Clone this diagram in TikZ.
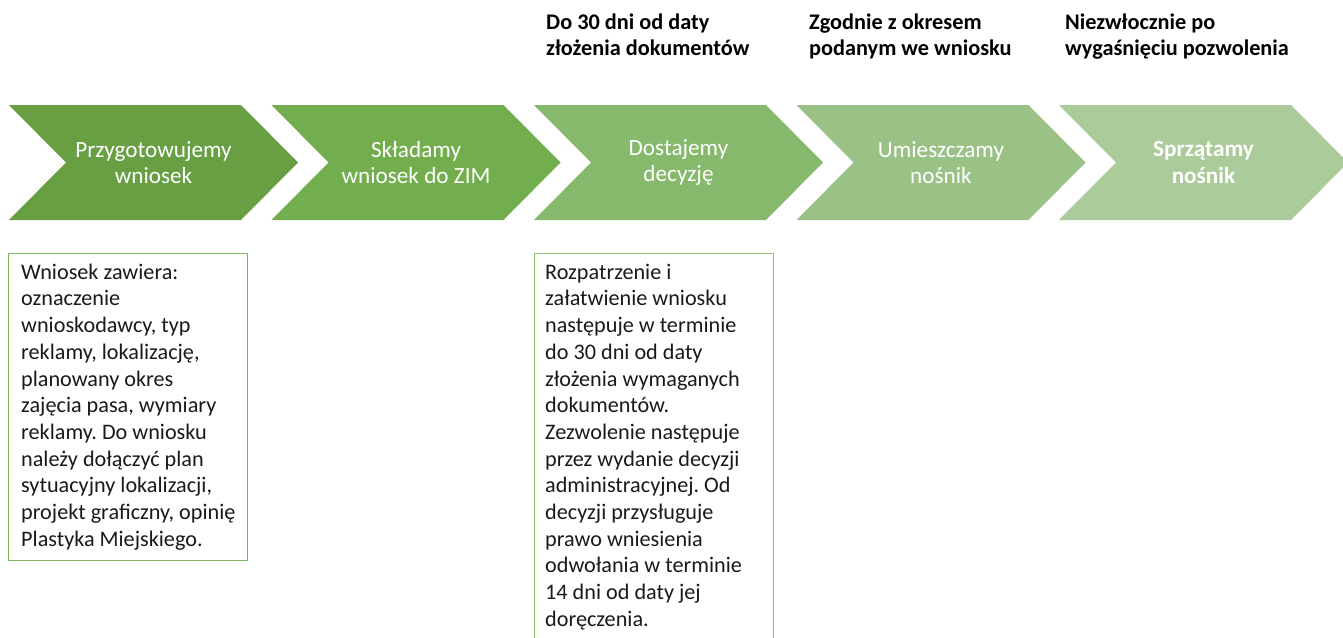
\documentclass[tikz,border=0pt]{standalone}
\usepackage{fontspec}
\setmainfont{Carlito}
\definecolor{cA}{HTML}{689F43}
\definecolor{cB}{HTML}{73AE4E}
\definecolor{cC}{HTML}{86B96B}
\definecolor{cD}{HTML}{9BC286}
\definecolor{cE}{HTML}{ACCB9A}
\definecolor{boxA}{HTML}{7DB65A}
\definecolor{boxB}{HTML}{8CC06E}
\definecolor{txt}{HTML}{1A1A1A}
\newcommand\mychevron[4]{%
  \fill[#2] (#1,105) -- ++(232,0) -- ++(57,57.5) -- ++(-57,57.5) -- ++(-232,0) -- ++(57,-57.5) -- cycle;
  \node[chevtext] (#3) at (#1+144.5,162.5) {#4};
}
\frenchspacing
\begin{document}
\begin{tikzpicture}[x=1pt,y=-1pt,
  chevtext/.style={text=white, align=center, inner sep=0pt, font=\fontsize{23.2}{26.5}\selectfont},
  toplabel/.style={text=black, align=left, anchor=north west, inner sep=0pt, font=\fontsize{22.3}{26.5}\selectfont\bfseries},
  infobox/.style={draw=#1, line width=1.3pt, fill=none, anchor=north west, inner sep=0pt},
  boxtext/.style={text=txt, align=left, anchor=north west, inner sep=0pt, font=\fontsize{22.2}{26.7}\selectfont}
]
\clip (0,0) rectangle (1343,637);
\fill[white] (0,0) rectangle (1343,637);

\mychevron{9}{cA}{s1}{Przygotowujemy\\wniosek}
\mychevron{271.5}{cB}{s2}{Składamy\\wniosek do ZIM}
\mychevron{534}{cC}{s3}{Dostajemy\\decyzję}
\mychevron{796.5}{cD}{s4}{Umieszczamy\\nośnik}
\mychevron{1059}{cE}{s5}{\textbf{Sprzątamy}\\\textbf{nośnik}}

\node[toplabel] (t3) at (546,9) {\rule{0pt}{20pt}Do 30 dni od daty\\złożenia dokumentów};
\node[toplabel] (t4) at (809,9) {\rule{0pt}{20pt}Zgodnie z okresem\\podanym we wniosku};
\node[toplabel] (t5) at (1065,9) {\rule{0pt}{20pt}Niezwłocznie po\\wygaśnięciu pozwolenia};

\node[infobox=boxA, minimum width=239pt, minimum height=307pt] (b1) at (8,253) {};
\node[boxtext] (b1t) at (21,259) {\rule{0pt}{20pt}Wniosek zawiera:\\oznaczenie\\wnioskodawcy, typ\\reklamy, lokalizację,\\planowany okres\\zajęcia pasa, wymiary\\reklamy. Do wniosku\\należy dołączyć plan\\sytuacyjny lokalizacji,\\projekt graficzny, opinię\\Plastyka Miejskiego.};

\node[infobox=boxB, minimum width=239pt, minimum height=400pt] (b2) at (534,253) {};
\node[boxtext] (b2t) at (545,259) {\rule{0pt}{20pt}Rozpatrzenie i\\załatwienie wniosku\\następuje w terminie\\do 30 dni od daty\\złożenia wymaganych\\dokumentów.\\Zezwolenie następuje\\przez wydanie decyzji\\administracyjnej. Od\\decyzji przysługuje\\prawo wniesienia\\odwołania w terminie\\14 dni od daty jej\\doręczenia.};
\end{tikzpicture}
\end{document}
